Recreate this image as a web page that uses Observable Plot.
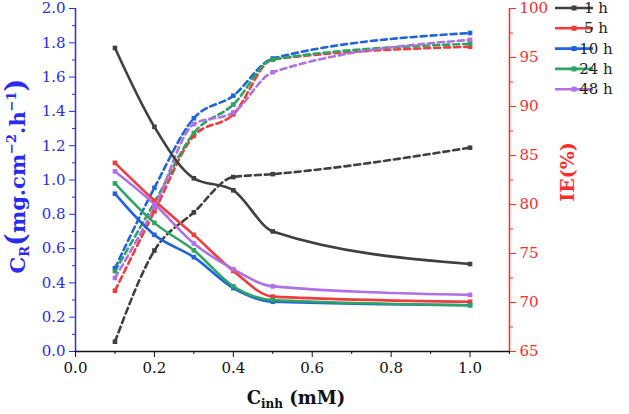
<!DOCTYPE html>
<html><head><meta charset="utf-8">
<script src="https://cdn.jsdelivr.net/npm/d3@7"></script>
<script src="https://cdn.jsdelivr.net/npm/@observablehq/plot@0.6"></script>
<style>body{margin:0;background:#fff;} svg{display:block;}</style>
</head><body><div id="chart"></div>
<script>
const xs = [0.1, 0.2, 0.3, 0.4, 0.5, 1.0];
const series = ["1 h", "5 h", "10 h", "24 h", "48 h"];
const colors = ["#404040", "#f03c3c", "#1f63dd", "#2ea464", "#b070e6"];
const cr1 = [1.77, 1.31, 1.01, 0.94, 0.70, 0.51];
const cr5 = [1.10, 0.88, 0.68, 0.47, 0.32, 0.29];
const cr10 = [0.92, 0.68, 0.55, 0.37, 0.29, 0.27];
const cr24 = [0.98, 0.75, 0.59, 0.38, 0.30, 0.27];
const cr48 = [1.05, 0.86, 0.63, 0.48, 0.38, 0.33];
const ie1 = [66.0, 75.3, 79.2, 82.8, 83.1, 85.8];
const ie5 = [71.2, 79.3, 87.0, 89.2, 94.8, 96.1];
const ie10 = [73.5, 81.7, 88.8, 91.1, 94.9, 97.5];
const ie24 = [73.2, 80.2, 87.3, 90.2, 94.8, 96.4];
const ie48 = [72.5, 79.7, 88.2, 89.4, 93.5, 96.8];
const xTicks = [0, 0.2, 0.4, 0.6, 0.8, 1.0];
const yTicks = [0, 0.2, 0.4, 0.6, 0.8, 1.0, 1.2, 1.4, 1.6, 1.8, 2.0];
const ieTicks = [65, 70, 75, 80, 85, 90, 95, 100];

const crAll = [cr1, cr5, cr10, cr24, cr48];
const ieAll = [ie1, ie5, ie10, ie24, ie48];
const ieMin = 65, ieMax = 100, yMax = 2;
const toLeft = v => (v - ieMin) / (ieMax - ieMin) * yMax;
const fromLeft = v => Math.round(v / yMax * (ieMax - ieMin) + ieMin);

const crData = [], ieData = [];
series.forEach((s, i) => {
  xs.forEach((x, j) => {
    crData.push({s, x, v: crAll[i][j]});
    ieData.push({s, x, v: toLeft(ieAll[i][j])});
  });
});

const BLUE = "#2b2bf0", RED = "#ff2a2a";
const FONT = "DejaVu Serif";
const minorY = d3.range(1, 20, 2).map(d => d / 10);
const minorIE = d3.range(67.5, 100, 5).map(toLeft);
const minorX = [0.1, 0.3, 0.5, 0.7, 0.9, 1.1];

const color = {domain: series, range: colors};

const plot = Plot.plot({
  width: 629, height: 414,
  marginLeft: 75, marginRight: 120, marginTop: 8, marginBottom: 63,
  style: {fontFamily: FONT, background: "#fff"},
  x: {domain: [0, 1.1]},
  y: {domain: [0, yMax]},
  color,
  marks: [
    Plot.lineY(ieData, {x: "x", y: "v", z: "s", stroke: "s", curve: "monotone-x", strokeWidth: 2.6, strokeDasharray: "6,4"}),
    Plot.dot(ieData, {x: "x", y: "v", fill: "s", symbol: "square", r: 2.6}),
    Plot.lineY(crData, {x: "x", y: "v", z: "s", stroke: "s", curve: "monotone-x", strokeWidth: 2.6}),
    Plot.dot(crData, {x: "x", y: "v", fill: "s", symbol: "square", r: 2.6}),
    Plot.axisX(xTicks, {anchor: "bottom", tickSize: 6, tickPadding: 5, tickFormat: d => d.toFixed(1), fontSize: 15, color: "#111", label: null}),
    Plot.axisX(minorX, {anchor: "bottom", tickSize: 3, tickFormat: () => "", color: "#111", label: null}),
    Plot.axisY(yTicks, {anchor: "left", tickSize: 6, tickPadding: 4, tickFormat: d => d.toFixed(1), fontSize: 15, color: BLUE, label: null}),
    Plot.axisY(minorY, {anchor: "left", tickSize: 3, tickFormat: () => "", color: BLUE, label: null}),
    Plot.axisY(ieTicks.map(toLeft), {anchor: "right", tickSize: 6, tickPadding: 4, tickFormat: d => fromLeft(d), fontSize: 15, color: RED, label: null}),
    Plot.axisY(minorIE, {anchor: "right", tickSize: 3, tickFormat: () => "", color: RED, label: null}),
    Plot.ruleX([0], {stroke: BLUE, strokeWidth: 1.5}),
    Plot.ruleX([1.1], {stroke: RED, strokeWidth: 1.5}),
    Plot.ruleY([0], {stroke: "#111", strokeWidth: 1.5})
  ]
});
document.getElementById("chart").appendChild(plot);

const svg = d3.select(plot);
// Left axis title
const lt = svg.append("text")
  .attr("transform", "translate(25,176) rotate(-90)")
  .attr("text-anchor", "middle").attr("fill", BLUE)
  .attr("font-family", FONT).attr("font-weight", "bold").attr("font-size", 21);
lt.append("tspan").text("C");
lt.append("tspan").attr("font-size", 13).attr("dy", 4).text("R");
lt.append("tspan").attr("font-size", 27).attr("dy", -4).text("(");
lt.append("tspan").text("mg.cm");
lt.append("tspan").attr("font-size", 13).attr("dy", -9).text("−2");
lt.append("tspan").attr("dy", 9).text(".h");
lt.append("tspan").attr("font-size", 13).attr("dy", -9).text("−1");
lt.append("tspan").attr("font-size", 27).attr("dy", 9).text(")");

// Right axis title
svg.append("text")
  .attr("transform", "translate(574,172) rotate(-90)")
  .attr("text-anchor", "middle").attr("fill", RED)
  .attr("font-family", FONT).attr("font-weight", "bold").attr("font-size", 19)
  .text("IE(%)");

// X axis title
const xt = svg.append("text")
  .attr("x", 296).attr("y", 404)
  .attr("text-anchor", "middle").attr("fill", "#111")
  .attr("font-family", FONT).attr("font-weight", "bold").attr("font-size", 18);
xt.append("tspan").text("C");
xt.append("tspan").attr("font-size", 12).attr("dy", 4).text("inh");
xt.append("tspan").attr("dy", -4).text(" (mM)");

// Legend
const lg = svg.append("g");
series.forEach((s, i) => {
  const y = 8 + i * 20.3;
  lg.append("line").attr("x1", 555).attr("x2", 593).attr("y1", y).attr("y2", y)
    .attr("stroke", colors[i]).attr("stroke-width", 2.6);
  lg.append("rect").attr("x", 571.5).attr("y", y - 2.5).attr("width", 5).attr("height", 5).attr("fill", colors[i]);
  lg.append("text").attr("x", 596).attr("y", y + 5).attr("font-family", FONT)
    .attr("font-size", 15).attr("fill", "#222").text(s);
});
</script></body></html>
